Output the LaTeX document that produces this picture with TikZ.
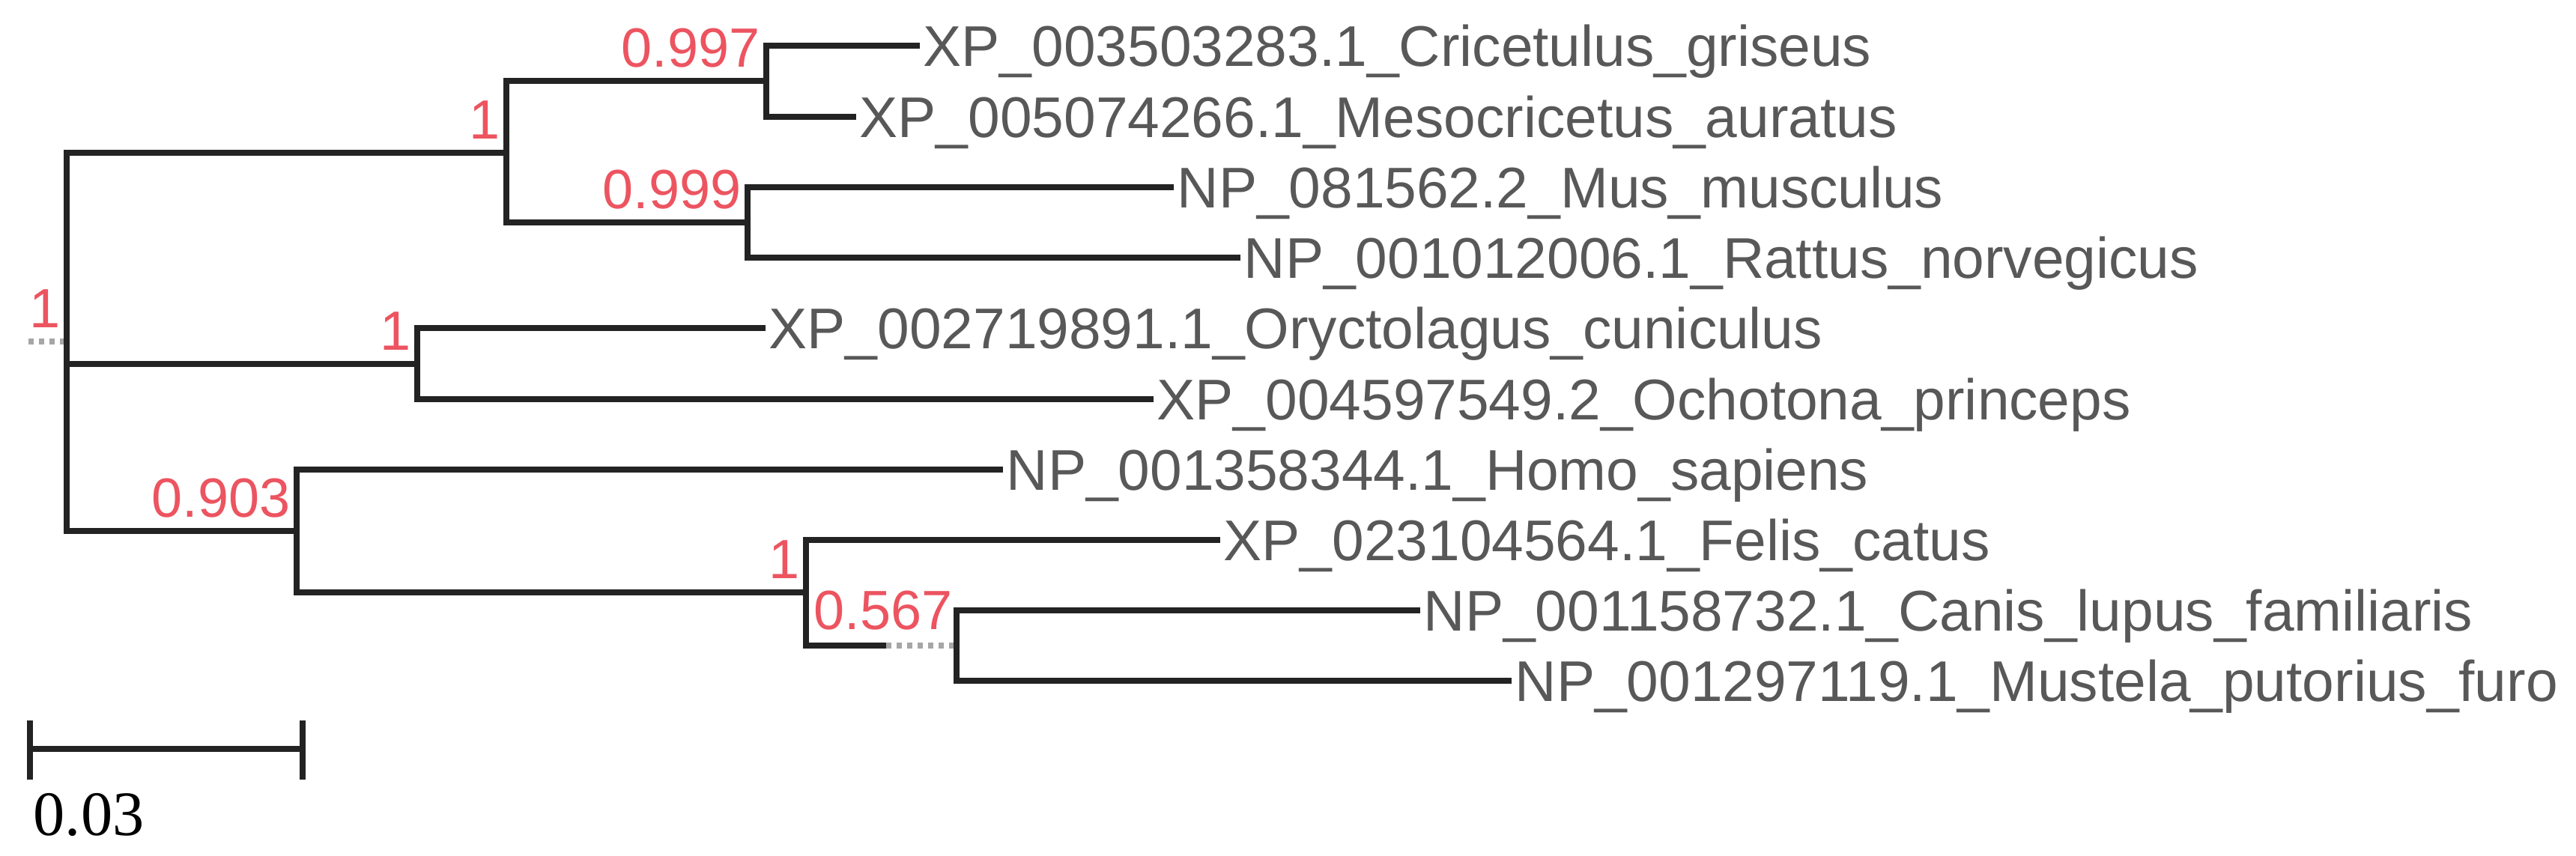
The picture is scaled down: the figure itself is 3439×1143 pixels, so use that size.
\documentclass[tikz,border=0pt]{standalone}
\usepackage{fontspec}
\setmainfont{Liberation Sans}
\newfontfamily\barfont{Liberation Serif}
\usetikzlibrary{positioning}

\definecolor{bootred}{RGB}{236,84,96}
\definecolor{taxgray}{RGB}{88,88,88}
\definecolor{branchgray}{RGB}{35,35,35}

\begin{document}
\begin{tikzpicture}[
    x=0.01cm, y=-0.01cm,
    branch/.style={draw=branchgray, line width=2.2pt},
    stub/.style={draw=gray!70, line width=2pt, dotted},
    taxon/.style={anchor=west, inner xsep=0.04cm, inner ysep=0pt, text height=15.6pt, text depth=0pt, text=taxgray, font=\fontsize{21.8}{24}\selectfont},
    boot/.style={anchor=base east, inner sep=0pt, text=bootred, font=\fontsize{21}{24}\selectfont}
]
\useasboundingbox (0,0) rectangle (3439,1143);

\coordinate (origin) at (38,456);
\coordinate (root) at (89,456);
\coordinate (rodents) at (676,204);
\coordinate (hamsters) at (1023,108);
\coordinate (murids) at (998,297);
\coordinate (lagos) at (557,486);
\coordinate (primcarn) at (396,709);
\coordinate (carniv) at (1076,791);
\coordinate (carnsplit) at (1183,862);
\coordinate (canmus) at (1277,862);

\node[taxon] (cri) at (1228,61) {XP\_003503283.1\_Cricetulus\_griseus};
\node[taxon] (mes) at (1143,156) {XP\_005074266.1\_Mesocricetus\_auratus};
\node[taxon] (mus) at (1567,250) {NP\_081562.2\_Mus\_musculus};
\node[taxon] (rat) at (1656,344) {NP\_001012006.1\_Rattus\_norvegicus};
\node[taxon] (ory) at (1022,438) {XP\_002719891.1\_Oryctolagus\_cuniculus};
\node[taxon] (och) at (1540,533) {XP\_004597549.2\_Ochotona\_princeps};
\node[taxon] (hom) at (1339,627) {NP\_001358344.1\_Homo\_sapiens};
\node[taxon] (fel) at (1629,721) {XP\_023104564.1\_Felis\_catus};
\node[taxon] (can) at (1896,815) {NP\_001158732.1\_Canis\_lupus\_familiaris};
\node[taxon] (mst) at (2018,909) {NP\_001297119.1\_Mustela\_putorius\_furo};

\node[boot] (broot) at ([xshift=-0.08cm, yshift=0.18cm]root) {1};
\node[boot] (brodents) at ([xshift=-0.08cm, yshift=0.18cm]rodents) {1};
\node[boot] (bhamsters) at ([xshift=-0.08cm, yshift=0.18cm]hamsters) {0.997};
\node[boot] (bmurids) at ([xshift=-0.08cm, yshift=0.18cm]murids) {0.999};
\node[boot] (blagos) at ([xshift=-0.08cm, yshift=0.18cm]lagos) {1};
\node[boot] (bprimcarn) at ([xshift=-0.08cm, yshift=0.18cm]primcarn) {0.903};
\node[boot] (bcarniv) at ([xshift=-0.08cm, yshift=0.18cm]carniv) {1};
\node[boot] (bcanmus) at ([xshift=-0.05cm, yshift=0.21cm]canmus) {0.567};

\draw[stub] (origin) -- (root);
\draw[branch] (root) |- (rodents);
\draw[branch] (root) |- (lagos);
\draw[branch] (root) |- (primcarn);
\draw[branch] (rodents) |- (hamsters);
\draw[branch] (rodents) |- (murids);
\draw[branch] (hamsters) |- (cri.west);
\draw[branch] (hamsters) |- (mes.west);
\draw[branch] (murids) |- (mus.west);
\draw[branch] (murids) |- (rat.west);
\draw[branch] (lagos) |- (ory.west);
\draw[branch] (lagos) |- (och.west);
\draw[branch] (primcarn) |- (hom.west);
\draw[branch] (primcarn) |- (carniv);
\draw[branch] (carniv) |- (fel.west);
\draw[branch] (carniv) |- (carnsplit);
\draw[stub] (carnsplit) -- (canmus);
\draw[branch] (canmus) |- (can.west);
\draw[branch] (canmus) |- (mst.west);

\draw[branch] (40,962) -- (40,1041) (40,1000) -- (404,1000) (404,962) -- (404,1041);
\node[anchor=base west, inner sep=0pt, font=\barfont\fontsize{24}{26}\selectfont] (scalelabel) at (44,1115) {0.03};
\end{tikzpicture}
\end{document}
